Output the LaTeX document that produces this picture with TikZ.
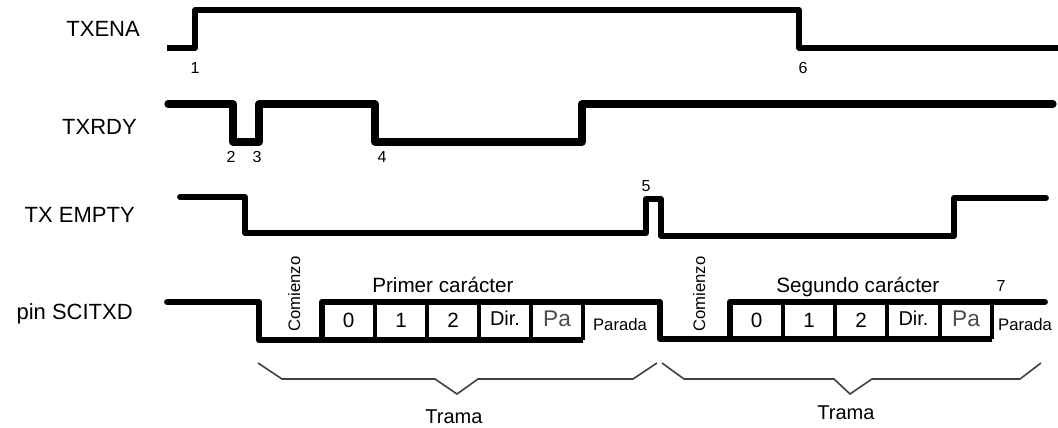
\documentclass[tikz,border=0pt]{standalone}
\usepackage{fontspec}
\setmainfont{Liberation Sans}

\begin{document}
\begin{tikzpicture}[x=0.75pt,y=-0.75pt,
  wave/.style={line width=4.4pt,line join=round},
  cell/.style={line width=3.6pt},
  signame/.style={anchor=base east,inner sep=0pt,font=\fontsize{16.5}{18}\selectfont},
  evt/.style={anchor=base,inner sep=0pt,font=\fontsize{12}{14}\selectfont},
  bitlbl/.style={anchor=base,inner sep=0pt,font=\fontsize{15.5}{17}\selectfont},
  startlbl/.style={anchor=base west,rotate=90,inner sep=0pt,font=\fontsize{12.5}{14}\selectfont},
  stoplbl/.style={anchor=base,inner sep=0pt,font=\fontsize{12.5}{14}\selectfont},
  charlbl/.style={anchor=base west,inner sep=0pt,font=\fontsize{15.5}{17}\selectfont},
  brace/.style={line width=1.2pt,black!75}]
\useasboundingbox (0,0) rectangle (1058,428);

\node[signame] (txena) at (140,37) {TXENA};
\node[signame] (txrdy) at (137,135) {TXRDY};
\node[signame] (txempty) at (135,222) {TX EMPTY};
\node[signame] (scitxd) at (133,319) {pin SCITXD};

% TXENA
\draw[wave,line width=4pt] (167,48) -- (195,48) -- (195,10) -- (799,10) -- (799,48) -- (1058,48);
\node[evt] (ev1) at (195,74) {1};
\node[evt] (ev6) at (803,74) {6};

% TXRDY
\draw[wave,line width=5.4pt,line cap=round] (168,104) -- (233,104) -- (233,142) -- (259,142) -- (259,104)
  -- (375,104) -- (375,142) -- (582,142) -- (582,104) -- (1053,104);
\node[evt] (ev2) at (231,162) {2};
\node[evt] (ev3) at (257,162) {3};
\node[evt] (ev4) at (382,162) {4};

% TX EMPTY
\draw[wave,line cap=round] (180,197) -- (245,197) -- (245,233) -- (646,233) -- (646,199) -- (661,199)
  -- (661,236) -- (954,236) -- (954,198) -- (1046,198);
\node[evt] (ev5) at (646,191) {5};

% pin SCITXD
\draw[wave,line cap=round] (167,302) -- (259,302) -- (259,340) -- (322,340) -- (322,302) -- (660,302)
  -- (660,339) -- (730,339) -- (730,302) -- (1045,302);
\draw[wave] (322,340) -- (583,340);
\draw[wave] (730,339) -- (992,339);
\draw[cell] (375,302) -- (375,340);
\draw[cell] (427,302) -- (427,340);
\draw[cell] (479,302) -- (479,340);
\draw[cell] (531,302) -- (531,340);
\draw[cell] (583,302) -- (583,340);
\draw[cell] (783,302) -- (783,339);
\draw[cell] (835,302) -- (835,339);
\draw[cell] (887,302) -- (887,339);
\draw[cell] (940,302) -- (940,339);
\draw[cell] (992,302) -- (992,339);

% primer caracter
\node[startlbl] (start1) at (300,332) {Comienzo};
\node[charlbl] (char1) at (372,292) {Primer carácter};
\node[bitlbl] (a0) at (348.5,327) {0};
\node[bitlbl] (a1) at (401,327) {1};
\node[bitlbl] (a2) at (453,327) {2};
\node[bitlbl,font=\fontsize{15}{17}\selectfont] (adir) at (505,325) {Dir.};
\node[bitlbl,font=\fontsize{17}{19}\selectfont,black!70] (apa) at (557,326) {Pa};
\node[stoplbl] (astop) at (620,330) {Parada};

% segundo caracter
\node[startlbl] (start2) at (705,332) {Comienzo};
\node[charlbl] (char2) at (776,292) {Segundo carácter};
\node[evt] (ev7) at (1001,291) {7};
\node[bitlbl] (b0) at (756.5,327) {0};
\node[bitlbl] (b1) at (809,327) {1};
\node[bitlbl] (b2) at (861,327) {2};
\node[bitlbl,font=\fontsize{15}{17}\selectfont] (bdir) at (913.5,325) {Dir.};
\node[bitlbl,font=\fontsize{17}{19}\selectfont,black!70] (bpa) at (966,326) {Pa};
\node[stoplbl] (bstop) at (1025,330) {Parada};

% tramas
\draw[brace] (258,363) -- (282,379) -- (435,379) -- (457,394) -- (478,379) -- (633,379) -- (657,363);
\draw[brace] (662,363) -- (684,379) -- (834,379) -- (850,394) -- (872,379) -- (1020,379) -- (1041,363);
\node[bitlbl,font=\fontsize{15}{17}\selectfont] (trama1) at (454,423) {Trama};
\node[bitlbl,font=\fontsize{15}{17}\selectfont] (trama2) at (846,419) {Trama};
\end{tikzpicture}
\end{document}
